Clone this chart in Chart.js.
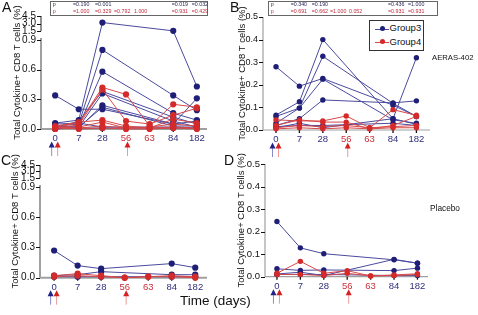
<!DOCTYPE html>
<html>
<head>
<meta charset="utf-8">
<script src="https://cdn.jsdelivr.net/npm/chart.js@4.4.0/dist/chart.umd.min.js"></script>
<style>
body { margin: 0; background: #fff; font-family: "Liberation Sans", Arial, sans-serif; }
#wrap { position: relative; width: 478px; height: 315px; overflow: hidden; }
canvas { position: absolute; }
.lbl { position: absolute; white-space: nowrap; line-height: 1; color: #111; }
.pbox { position: absolute; border: 1px solid #666; box-sizing: border-box; }
.ptxt { position: absolute; white-space: nowrap; line-height: 1; font-size: 5.3px; }
.legend { position: absolute; border: 1.5px solid #333; box-sizing: border-box; background: #fff; }
</style>
</head>
<body>
<div id="wrap">
  <canvas id="chartA" width="239" height="160" style="left:0;top:0"></canvas>
  <canvas id="chartB" width="242" height="160" style="left:236px;top:0"></canvas>
  <canvas id="chartC" width="239" height="163" style="left:0;top:152px"></canvas>
  <canvas id="chartD" width="242" height="163" style="left:236px;top:152px"></canvas>

  <div class="lbl" style="left:2px;top:0;font-size:14px">A</div>
  <div class="lbl" style="left:230px;top:0;font-size:14px">B</div>
  <div class="lbl" style="left:1px;top:153px;font-size:14px">C</div>
  <div class="lbl" style="left:224px;top:153px;font-size:14px">D</div>
  <div class="lbl" style="left:432px;top:54px;font-size:7.7px">AERAS-402</div>
  <div class="lbl" style="left:430px;top:203.5px;font-size:8.3px">Placebo</div>
  <div class="lbl" style="left:180px;top:294px;font-size:13.5px">Time (days)</div>

  <div id="legendB" class="legend" style="left:369px;top:20px;width:55px;height:31px"></div>
</div>

<script>
// time points (category axis)
const days = ['0', '7', '28', '56', '63', '84', '182'];
const navy = '#2f2f7c';
const red = '#c8303a';
const dayColors = [navy, navy, navy, red, red, navy, navy];

// broken y axis (panels A and C) and plain axis (B and D)
const brokenTicks = [0, 0.3, 0.6, 0.9, 1.5, 3.0, 4.5];
const brokenTickLabels = ['0.0', '0.3', '0.6', '0.9', '1.5', '3.0', '4.5'];
const smallTicks = [0, 0.1, 0.2, 0.3, 0.4, 0.5];
const smallTickLabels = ['0.0', '0.1', '0.2', '0.3', '0.4', '0.5'];

// vaccination arrows under the x axis
const doseArrows = [
  { day: '0', group: 'Group3' },
  { day: '0', group: 'Group4' },
  { day: '56', group: 'Group4' }
];

// A: AERAS-402, total cytokine+ CD8 (%), one row per subject
const aGroup3 = [
  [0.06, 0.09, 3.2, null, null, 1.55, 0.43],
  [0.03, 0.05, 0.80, null, null, 0.34, 0.19],
  [0.02, 0.03, 0.58, null, null, 0.16, 0.09],
  [0.34, 0.20, 0.20, null, null, 0.05, 0.31],
  [0.01, 0.08, 0.38, null, null, 0.12, 0.05],
  [0.02, 0.02, 0.36, null, null, 0.08, 0.02],
  [0.01, 0.01, 0.24, null, null, 0.05, 0.08],
  [0.00, 0.02, 0.22, null, null, 0.03, 0.03],
  [0.05, 0.06, 0.02, null, null, 0.02, 0.01],
  [0.01, 0.01, 0.01, null, null, 0.01, 0.01]
];
const aGroup4 = [
  [0.02, 0.06, 0.42, 0.35, 0.03, 0.25, 0.22],
  [0.01, 0.04, 0.40, 0.08, 0.05, 0.14, 0.21],
  [0.03, 0.07, 0.09, 0.03, 0.01, 0.10, 0.06],
  [0.01, 0.02, 0.07, 0.01, 0.02, 0.05, 0.03],
  [0.00, 0.01, 0.03, 0.01, 0.01, 0.02, 0.01],
  [0.02, 0.00, 0.01, 0.00, 0.00, 0.01, 0.00]
];

// B: AERAS-402, second readout
const bGroup3 = [
  [0.28, 0.194, 0.228, null, null, 0.11, 0.06],
  [0.066, 0.125, 0.40, null, null, 0.05, 0.025],
  [0.06, 0.097, 0.326, null, null, 0.118, 0.06],
  [0.03, 0.097, 0.225, null, null, 0.045, 0.03],
  [0.02, 0.05, 0.133, null, null, 0.12, 0.129],
  [0.01, 0.03, 0.01, null, null, 0.05, 0.32],
  [0.015, 0.02, 0.02, null, null, 0.03, 0.02]
];
const bGroup4 = [
  [0.045, 0.04, 0.04, 0.062, 0.01, 0.09, 0.065],
  [0.02, 0.045, 0.035, 0.035, 0.005, 0.02, 0.06],
  [0.01, 0.02, 0.015, 0.02, 0.01, 0.015, 0.02],
  [0.005, 0.01, 0.005, 0.01, 0.005, 0.01, 0.01]
];

// C: placebo
const cGroup3 = [
  [0.27, 0.12, 0.09, null, null, 0.14, 0.10],
  [0.02, 0.03, 0.06, null, null, 0.03, 0.03],
  [0.01, 0.01, 0.01, null, null, 0.01, 0.01]
];
const cGroup4 = [
  [0.02, 0.04, 0.02, 0.00, 0.01, 0.02, 0.01],
  [0.01, 0.02, 0.01, 0.00, 0.01, 0.01, 0.00]
];

// D: placebo, second readout
const dGroup3 = [
  [0.245, 0.128, 0.102, null, null, 0.075, 0.06],
  [0.035, 0.028, 0.03, null, null, 0.027, 0.038],
  [0.012, 0.02, 0.005, null, null, 0.077, 0.06],
  [0.01, 0.01, 0.01, null, null, 0.005, 0.005]
];
const dGroup4 = [
  [0.015, 0.068, 0.015, 0.027, 0.003, 0.008, 0.013],
  [0.01, 0.01, 0.005, 0.015, 0.003, 0.005, 0.01]
];

// p values per time point after baseline (7 ... 182)
const pA3 = ['=0.190', '=0.001', '', '', '=0.019', '=0.032'];
const pA4 = ['=1.000', '=0.329', '=0.792', '1.000', '=0.931', '=0.429'];
const pB3 = ['=0.340', '=0.190', '', '', '=0.436', '=1.000'];
const pB4 = ['=0.691', '=0.662', '=1.000', '0.052', '=0.931', '=0.931'];

const style = {
  Group3: { line: '#4a4a9e', point: '#1f1f78', arrowHead: '#22228a', arrowShaft: '#8a8ad0' },
  Group4: { line: '#d84848', point: '#d42a2a', arrowHead: '#d42020', arrowShaft: '#ee9a9a' }
};

Chart.defaults.font.family = '"Liberation Sans", Arial, sans-serif';
Chart.defaults.color = '#111';

function brokenScale(k) {
  return v => (v <= 0.9 ? v : 0.99 + (v - 1.5) * k);
}

function toPoints(row, tf) {
  return row.map((v, i) => (v === null ? null : { x: i, y: tf(v) })).filter(p => p);
}

const panelAxes = {
  id: 'panelAxes',
  beforeDatasetsDraw(chart, args, opts) {
    const ctx = chart.ctx;
    const area = chart.chartArea;
    const xs = chart.scales.x;
    const ys = chart.scales.y;
    ctx.save();
    // x axis line
    ctx.strokeStyle = '#a0a0a0';
    ctx.lineWidth = opts.axisWidth;
    ctx.beginPath();
    ctx.moveTo(area.left, area.bottom);
    ctx.lineTo(area.right, area.bottom);
    ctx.stroke();
    // y axis line (broken or not)
    if (opts.tf) {
      ctx.beginPath();
      ctx.moveTo(area.left, area.bottom);
      ctx.lineTo(area.left, ys.getPixelForValue(0.9) - 2);
      ctx.stroke();
      ctx.strokeStyle = '#222';
      ctx.lineWidth = 1;
      ctx.beginPath();
      ctx.moveTo(area.left, ys.getPixelForValue(opts.tf(1.5)));
      ctx.lineTo(area.left, ys.getPixelForValue(opts.tf(4.5)));
      ctx.stroke();
    } else {
      ctx.beginPath();
      ctx.moveTo(area.left, area.bottom);
      ctx.lineTo(area.left, area.top);
      ctx.stroke();
    }
    // tick marks
    ctx.strokeStyle = '#111';
    ctx.lineWidth = 1;
    ys.ticks.forEach(t => {
      const py = Math.round(ys.getPixelForValue(t.value)) + 0.5;
      ctx.beginPath();
      ctx.moveTo(area.left - 4, py);
      ctx.lineTo(area.left, py);
      ctx.stroke();
    });
    ctx.lineWidth = 1.3;
    days.forEach((d, i) => {
      const px = xs.getPixelForValue(i);
      ctx.beginPath();
      ctx.moveTo(px, area.bottom);
      ctx.lineTo(px, area.bottom + 3);
      ctx.stroke();
    });
    // dose arrows
    doseArrows.forEach(a => {
      const s = style[a.group];
      const px = xs.getPixelForValue(days.indexOf(a.day)) + (a.group === 'Group3' ? -3.5 : 2.5) +
        (a.day === '56' ? -1 : 0);
      const top = area.bottom + opts.arrowTop;
      const bottom = area.bottom + opts.arrowBottom;
      ctx.strokeStyle = s.arrowShaft;
      ctx.lineWidth = 1;
      ctx.beginPath();
      ctx.moveTo(px, top + 4);
      ctx.lineTo(px, bottom);
      ctx.stroke();
      ctx.fillStyle = s.arrowHead;
      ctx.beginPath();
      ctx.moveTo(px, top);
      ctx.lineTo(px - 3, top + 6);
      ctx.lineTo(px + 3, top + 6);
      ctx.closePath();
      ctx.fill();
    });
    ctx.restore();
  }
};

function makePanel(id, p) {
  const datasets = [];
  const add = (rows, group) => rows.forEach(row => {
    datasets.push({
      label: group,
      data: toPoints(row, p.tf || (v => v)),
      borderColor: style[group].line,
      backgroundColor: style[group].point,
      pointBackgroundColor: style[group].point,
      pointBorderWidth: 0,
      pointRadius: p.radius,
      borderWidth: 1,
      showLine: true,
      clip: false
    });
  });
  // red drawn on top of blue
  add(p.g4, 'Group4');
  add(p.g3, 'Group3');

  return new Chart(document.getElementById(id), {
    type: 'scatter',
    data: { datasets },
    plugins: [panelAxes],
    options: {
      responsive: false,
      animation: false,
      events: [],
      layout: { padding: { left: 0, right: p.padRight, top: p.padTop, bottom: 0 } },
      plugins: {
        legend: { display: false },
        tooltip: { enabled: false },
        panelAxes: { tf: p.tf, axisWidth: p.axisWidth, arrowTop: 12.5, arrowBottom: 27 }
      },
      scales: {
        x: {
          type: 'linear',
          min: p.xMin,
          max: p.xMax,
          afterBuildTicks: s => { s.ticks = days.map((d, i) => ({ value: i })); },
          afterFit: s => { s.height = p.xHeight; },
          grid: { display: false, drawTicks: false },
          border: { display: false },
          ticks: {
            autoSkip: false,
            maxRotation: 0,
            padding: 4,
            font: { size: 9.5 },
            color: c => dayColors[c.index],
            callback: v => days[v]
          }
        },
        y: {
          type: 'linear',
          min: 0,
          max: p.yMax,
          afterBuildTicks: s => { s.ticks = p.yTicks.map(v => ({ value: (p.tf || (x => x))(v) })); },
          afterFit: s => { s.width = p.yWidth; },
          grid: { display: false, drawTicks: false },
          border: { display: false },
          ticks: {
            autoSkip: false,
            padding: 5,
            font: { size: p.yFont },
            color: '#111',
            callback: (v, i) => p.yLabels[i]
          },
          title: {
            display: true,
            text: 'Total Cytokine+ CD8 T cells (%)',
            font: { size: 9.5 },
            color: '#111',
            padding: { top: p.titlePad, bottom: 0 }
          }
        }
      }
    }
  });
}

const tfA = brokenScale(0.051);
const tfC = brokenScale(0.043);

makePanel('chartA', {
  g3: aGroup3, g4: aGroup4, tf: tfA, yTicks: brokenTicks, yLabels: brokenTickLabels,
  yMax: tfA(4.5), xMin: -0.6, xMax: 6.43, yWidth: 41, xHeight: 31, padRight: 32, padTop: 16,
  titlePad: 12, radius: 3.1, axisWidth: 2, yFont: 10
});
makePanel('chartB', {
  g3: bGroup3, g4: bGroup4, yTicks: smallTicks, yLabels: smallTickLabels,
  yMax: 0.5, xMin: -0.556, xMax: 6.58, yWidth: 27, xHeight: 30, padRight: 48, padTop: 17,
  titlePad: 1, radius: 2.7, axisWidth: 1.2, yFont: 9
});
makePanel('chartC', {
  g3: cGroup3, g4: cGroup4, tf: tfC, yTicks: brokenTicks, yLabels: brokenTickLabels,
  yMax: tfC(4.5), xMin: -0.6, xMax: 6.5, yWidth: 40, xHeight: 37.3, padRight: 32, padTop: 13,
  titlePad: 10, radius: 3.1, axisWidth: 2, yFont: 10
});
makePanel('chartD', {
  g3: dGroup3, g4: dGroup4, yTicks: smallTicks, yLabels: smallTickLabels,
  yMax: 0.5, xMin: -0.51, xMax: 6.45, yWidth: 29, xHeight: 38.3, padRight: 50, padTop: 12,
  titlePad: 0, radius: 2.7, axisWidth: 1.2, yFont: 9.5
});

// p-value boxes above A and B
function pTable(left, width, cols, row3, row4) {
  const wrap = document.getElementById('wrap');
  const box = document.createElement('div');
  box.className = 'pbox';
  box.style.cssText = `left:${left}px;top:0.5px;width:${width}px;height:15.5px`;
  wrap.appendChild(box);
  [[row3, '#2b2b55', 2], [row4, '#c0283a', 9.3]].forEach(([row, color, top]) => {
    const texts = ['p'].concat(row);
    const xs = [left + 2.7].concat(cols);
    texts.forEach((t, i) => {
      if (!t) return;
      const s = document.createElement('div');
      s.className = 'ptxt';
      s.style.cssText = `left:${xs[i]}px;top:${top}px;color:${color}`;
      s.textContent = t;
      wrap.appendChild(s);
    });
  });
}
pTable(50, 158, [73, 95, 114, 134, 171.7, 191.7], pA3, pA4);
pTable(268, 170, [290.7, 311.7, 330, 349, 388, 408], pB3, pB4);

// legend in B
const legend = document.getElementById('legendB');
['Group3', 'Group4'].forEach((g, i) => {
  const top = i === 0 ? 8.3 : 21.7;
  legend.insertAdjacentHTML('beforeend',
    `<div style="position:absolute;left:5px;top:${top - 0.5}px;width:14px;height:1px;background:${style[g].line}"></div>` +
    `<div style="position:absolute;left:${14.3 - 2.7 - 1.5}px;top:${top - 2.7 - 1.5 + 0.5}px;width:5.4px;height:5.4px;border-radius:50%;background:${style[g].point}"></div>` +
    `<div class="lbl" style="left:19.5px;top:${top - 6.1}px;font-size:9.5px">${g}</div>`);
});
</script>
</body>
</html>
